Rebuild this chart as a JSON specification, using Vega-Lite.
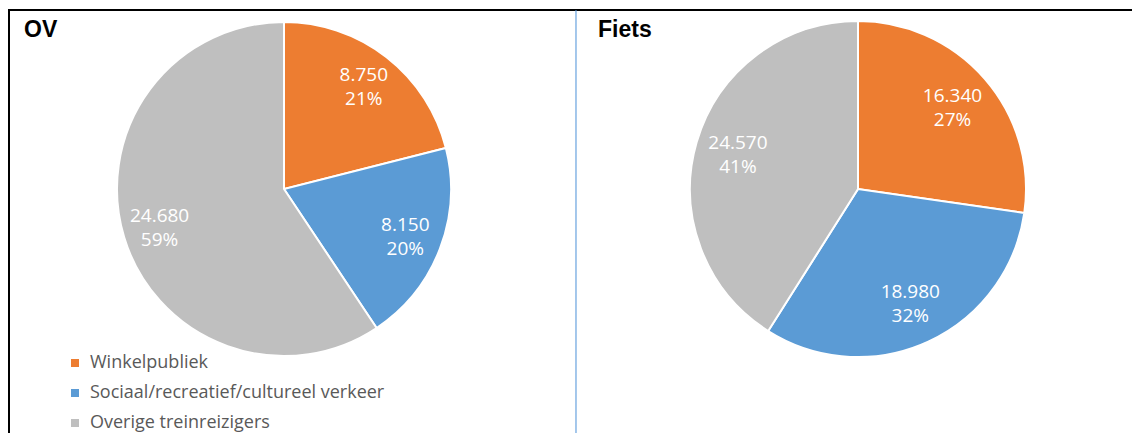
{
  "$schema": "https://vega.github.io/schema/vega-lite/v6.json",
  "width": 1126,
  "height": 426,
  "autosize": "none",
  "padding": {"left": 9, "top": 10, "right": 0, "bottom": 0},
  "config": {
    "view": {"stroke": "#000000", "strokeWidth": 2},
    "locale": {"number": {"decimal": ",", "thousands": ".", "grouping": [3], "currency": ["€", ""]}},
    "legend": {
      "orient": "none",
      "legendX": 57,
      "legendY": 344,
      "symbolType": "square",
      "symbolSize": 64,
      "symbolStrokeWidth": 0,
      "labelFont": "Open Sans",
      "labelFontSize": 18,
      "labelColor": "#595959",
      "labelOffset": 6,
      "rowPadding": 12,
      "padding": 0,
      "labelLimit": 500
    }
  },
  "datasets": {
    "pies": [
      {"chart": "OV", "category": "Winkelpubliek", "value": 8750, "pct": 0.21, "order": 1},
      {"chart": "OV", "category": "Sociaal/recreatief/cultureel verkeer", "value": 8150, "pct": 0.20, "order": 2},
      {"chart": "OV", "category": "Overige treinreizigers", "value": 24680, "pct": 0.59, "order": 3},
      {"chart": "Fiets", "category": "Winkelpubliek", "value": 16340, "pct": 0.27, "order": 1},
      {"chart": "Fiets", "category": "Sociaal/recreatief/cultureel verkeer", "value": 18980, "pct": 0.32, "order": 2},
      {"chart": "Fiets", "category": "Overige treinreizigers", "value": 24570, "pct": 0.41, "order": 3}
    ],
    "charts": [{"chart": "OV"}, {"chart": "Fiets"}],
    "divider": [{"chart": "Fiets"}]
  },
  "data": {"name": "pies"},
  "layer": [
    {
      "data": {"name": "divider"},
      "mark": {"type": "rule", "color": "#4A90D9", "strokeWidth": 1},
      "encoding": {
        "x": {"field": "chart", "type": "nominal", "bandPosition": 0,
              "scale": {"type": "band", "domain": ["OV", "Fiets"], "range": [-7, 1131], "paddingInner": 0.0174, "paddingOuter": 0},
              "axis": null}
      }
    },
    {
      "data": {"name": "charts"},
      "mark": {"type": "text", "align": "left", "baseline": "middle", "font": "Liberation Sans", "fontWeight": "bold", "fontSize": 23, "color": "#000000"},
      "encoding": {
        "x": {"field": "chart", "type": "nominal", "bandPosition": 0.039, "axis": null},
        "y": {"datum": "pie", "type": "nominal", "bandPosition": 0.056,
              "scale": {"type": "band", "domain": ["pie"], "range": [0, 358], "paddingInner": 0, "paddingOuter": 0},
              "axis": null},
        "text": {"field": "chart"}
      }
    },
    {
      "transform": [{"filter": "datum.chart === 'OV'"}],
      "encoding": {
        "x": {"field": "chart", "type": "nominal", "axis": null},
        "y": {"datum": "pie", "type": "nominal", "axis": null},
        "theta": {"field": "value", "type": "quantitative", "stack": "normalize"},
        "order": {"field": "order", "type": "quantitative"}
      },
      "layer": [
        {
          "mark": {"type": "arc", "radius": 167, "stroke": "#ffffff", "strokeWidth": 2},
          "encoding": {
            "color": {"field": "category", "type": "nominal", "title": null,
                      "scale": {"domain": ["Winkelpubliek", "Sociaal/recreatief/cultureel verkeer", "Overige treinreizigers"],
                                "range": ["#ED7D31", "#5B9BD5", "#BFBFBF"]}}
          }
        },
        {
          "mark": {"type": "text", "radius": 130, "dy": -11, "font": "Open Sans", "fontSize": 19, "color": "#ffffff", "align": "center", "baseline": "middle"},
          "encoding": {"text": {"field": "value", "type": "quantitative", "format": ",.0f"}}
        },
        {
          "mark": {"type": "text", "radius": 130, "dy": 13, "font": "Open Sans", "fontSize": 19, "color": "#ffffff", "align": "center", "baseline": "middle"},
          "encoding": {"text": {"field": "pct", "type": "quantitative", "format": ".0%"}}
        }
      ]
    },
    {
      "transform": [{"filter": "datum.chart === 'Fiets'"}],
      "encoding": {
        "x": {"field": "chart", "type": "nominal", "axis": null},
        "y": {"datum": "pie", "type": "nominal", "axis": null},
        "theta": {"field": "value", "type": "quantitative", "stack": "normalize"},
        "order": {"field": "order", "type": "quantitative"}
      },
      "layer": [
        {
          "mark": {"type": "arc", "radius": 168, "stroke": "#ffffff", "strokeWidth": 2},
          "encoding": {
            "color": {"field": "category", "type": "nominal", "title": null}
          }
        },
        {
          "mark": {"type": "text", "radius": 125, "dy": -11, "font": "Open Sans", "fontSize": 19, "color": "#ffffff", "align": "center", "baseline": "middle"},
          "encoding": {"text": {"field": "value", "type": "quantitative", "format": ",.0f"}}
        },
        {
          "mark": {"type": "text", "radius": 125, "dy": 13, "font": "Open Sans", "fontSize": 19, "color": "#ffffff", "align": "center", "baseline": "middle"},
          "encoding": {"text": {"field": "pct", "type": "quantitative", "format": ".0%"}}
        }
      ]
    }
  ]
}
